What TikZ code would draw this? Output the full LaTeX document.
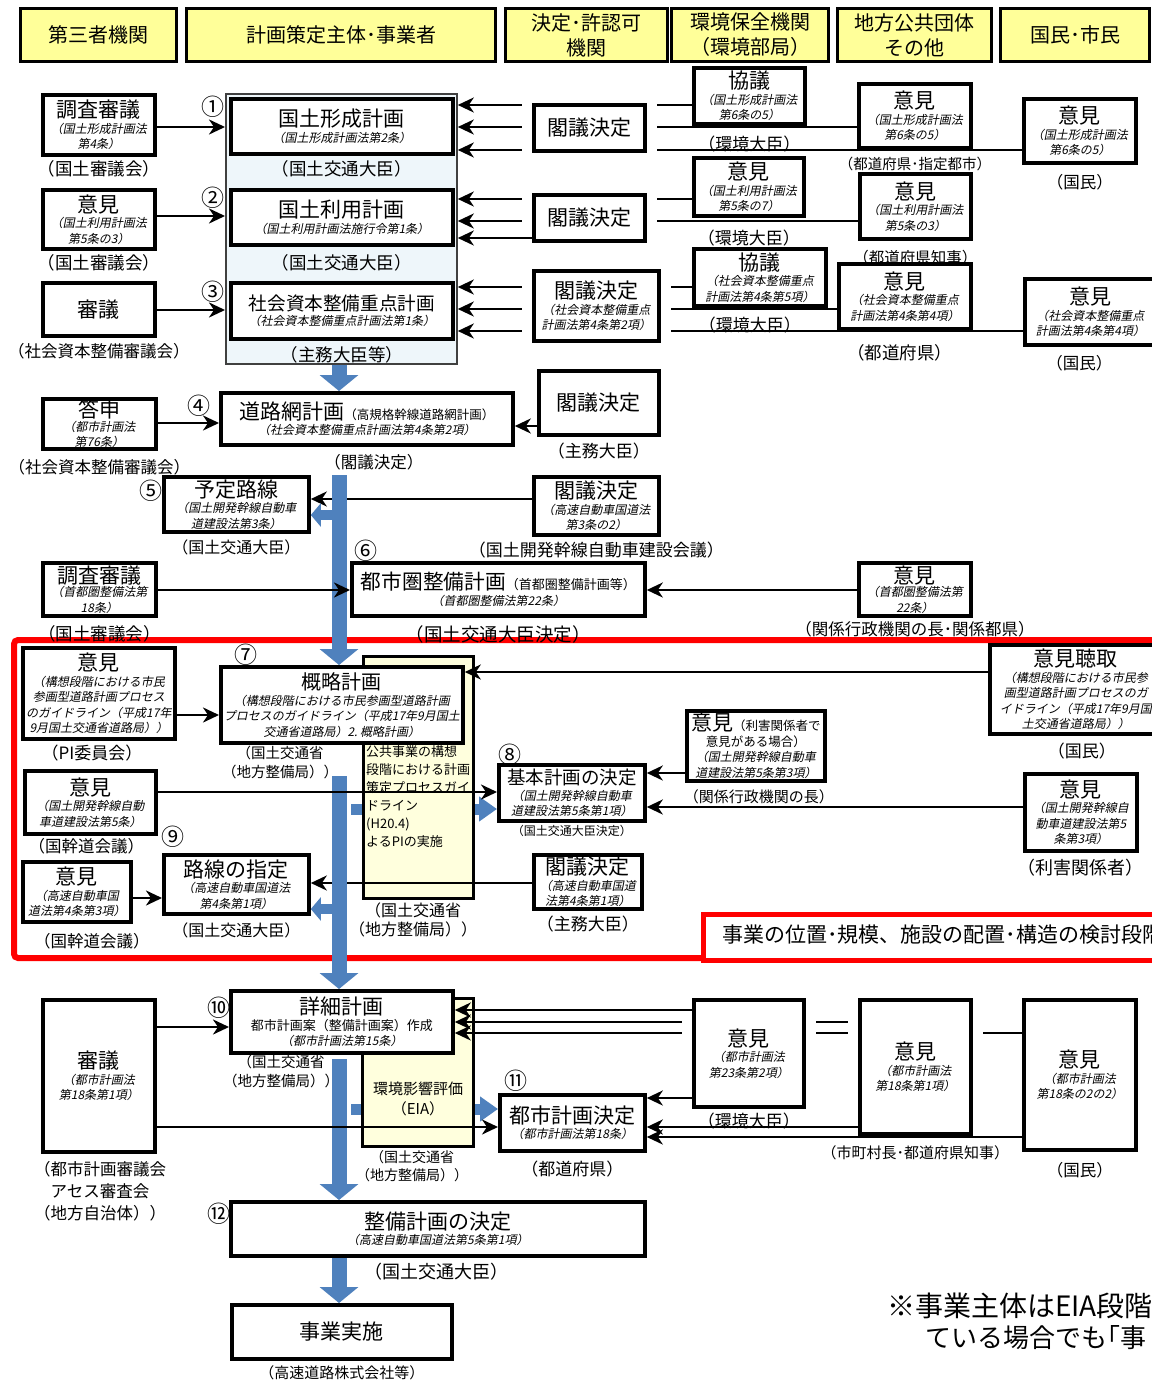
\documentclass[tikz,border=0pt]{standalone}
\usepackage{fontspec}
\setmainfont{Noto Sans CJK JP}
\newfontfamily\jpit{Noto Sans CJK JP}[FakeSlant=0.2]
\usetikzlibrary{arrows.meta, positioning}
\usepackage{xcolor}
\definecolor{hdryellow}{HTML}{FFFF99}
\definecolor{panelblue}{HTML}{EEF6FA}
\definecolor{pifill}{HTML}{FFFFDD}
\definecolor{barblue}{HTML}{4F81BD}
\newcommand{\jfs}[2]{\fontsize{#1}{#2}\selectfont}
\newcommand{\jtitle}{\normalfont\jfs{21}{24}}
\newcommand{\jsub}{\jpit\jfs{12}{15.5}}
\newcommand{\jsmall}{\normalfont\jfs{13}{16}}
\pgfdeclarelayer{bottom}
\pgfdeclarelayer{back}
\pgfsetlayers{bottom,back,main}

\begin{document}
\begin{tikzpicture}[x=1pt, y=-1pt]
  % スタイル
  \tikzstyle{header}=[rectangle, anchor=north west, draw=black, line width=3pt, fill=hdryellow, align=center, inner sep=0pt, font=\jfs{20}{25}]
  \tikzstyle{block}=[rectangle, anchor=north west, draw=black, line width=3.8pt, fill=white, align=center, inner sep=1pt, font=\jsub]
  \tikzstyle{coverblock}=[block, preaction={draw=white, line width=24pt}]
  \tikzstyle{pibox}=[rectangle, anchor=north west, draw=black, line width=3pt, fill=pifill]
  \tikzstyle{annot}=[inner sep=0pt, font=\jfs{17.5}{21}]
  \tikzstyle{circnum}=[inner sep=0pt, font=\jfs{23}{23}]
  \tikzstyle{arrow}=[line width=2.6pt, ->, >={Stealth[length=16pt, width=15pt, inset=5pt]}]
  \tikzstyle{flowbar}=[draw=barblue, line width=15pt, -{Triangle[length=16pt, width=38pt]}]
  \tikzstyle{minibar}=[draw=barblue, line width=10pt, -{Triangle[length=10pt, width=23pt]}]
  \tikzstyle{sidebar}=[draw=barblue, line width=11pt, -{Triangle[length=18pt, width=24pt]}]

  \useasboundingbox (0,0) rectangle (1151,1380);
  \begin{pgfonlayer}{bottom}
    \fill[white] (0,0) rectangle (1151,1380);
  \end{pgfonlayer}

  % 見出し
  \node (h1) [header, minimum width=156pt, minimum height=53pt] at (19,7) {第三者機関};
  \node (h2) [header, minimum width=309pt, minimum height=53pt] at (185,7) {計画策定主体･事業者};
  \node (h3) [header, minimum width=162pt, minimum height=53pt] at (504,7) {決定･許認可\\機関};
  \node (h4) [header, minimum width=157pt, minimum height=53pt] at (670,7) {環境保全機関\\（環境部局）};
  \node (h5) [header, minimum width=154pt, minimum height=53pt] at (836,7) {地方公共団体\\その他};
  \node (h6) [header, minimum width=149pt, minimum height=53pt] at (999,7) {国民･市民};

  % 国土計画
  \node (panel) [rectangle, anchor=north west, draw=black!75, line width=1.8pt, fill=panelblue, minimum width=231pt, minimum height=270pt] at (225,93) {};
  \node (p1) [block, minimum width=222pt, minimum height=55pt] at (229,97) {{\jtitle 国土形成計画}\\（国土形成計画法第2条）};
  \node (p2) [block, minimum width=222pt, minimum height=55pt] at (229,188) {{\jtitle 国土利用計画}\\（国土利用計画法施行令第1条）};
  \node (p3) [block, minimum width=222pt, minimum height=56pt] at (229,281) {{\normalfont\jfs{18.6}{22}社会資本整備重点計画}\\（社会資本整備重点計画法第1条）};
  \node (s1) [block, minimum width=112pt, minimum height=60pt] at (41,93) {{\jtitle 調査審議}\\（国土形成計画法\\第4条）};
  \node (s2) [block, minimum width=112pt, minimum height=59pt] at (41,188) {{\jtitle 意見}\\（国土利用計画法\\第5条の3）};
  \node (s3) [block, minimum width=112pt, minimum height=53pt] at (41,281) {{\jtitle 審議}};

  \node (k1) [coverblock, minimum width=111pt, minimum height=46pt] at (532,103) {{\jtitle 閣議決定}};
  \node (c1) [block, minimum width=111pt, minimum height=56pt] at (692,66) {{\jtitle 協議}\\（国土形成計画法\\第6条の5）};
  \node (l1) [block, minimum width=112pt, minimum height=64pt] at (857,82) {{\jtitle 意見}\\（国土形成計画法\\第6条の5）};
  \node (n1) [block, minimum width=112pt, minimum height=64pt] at (1022,97) {{\jtitle 意見}\\（国土形成計画法\\第6条の5）};
  \node (k2) [coverblock, minimum width=111pt, minimum height=46pt] at (532,193) {{\jtitle 閣議決定}};
  \node (c2) [block, minimum width=110pt, minimum height=58pt] at (692,156) {{\jtitle 意見}\\（国土利用計画法\\第5条の7）};
  \node (l2) [block, minimum width=111pt, minimum height=65pt] at (858,172) {{\jtitle 意見}\\（国土利用計画法\\第5条の3）};
  \node (k3) [coverblock, minimum width=125pt, minimum height=70pt] at (532,269) {{\jtitle 閣議決定}\\（社会資本整備重点\\計画法第4条第2項）};
  \node (c3) [block, minimum width=132pt, minimum height=57pt] at (692,247) {{\jtitle 協議}\\（社会資本整備重点\\計画法第4条第5項）};
  \node (l3) [block, minimum width=132pt, minimum height=65pt] at (837,262) {{\jtitle 意見}\\（社会資本整備重点\\計画法第4条第4項）};
  \node (n3) [block, minimum width=131pt, minimum height=66pt] at (1023,277) {{\jtitle 意見}\\（社会資本整備重点\\計画法第4条第4項）};

  % 道路網計画～都市圏整備計画
  \node (road) [block, minimum width=292pt, minimum height=52pt] at (219,391) {{\jtitle 道路網計画}{\normalfont\jfs{12.5}{15}（高規格幹線道路網計画）}\\（社会資本整備重点計画法第4条第2項）};
  \node (tosin) [block, minimum width=113pt, minimum height=50pt] at (41,397) {{\jtitle 答申}\\[-2pt]（都市計画法\\第76条）};
  \node (k4) [block, minimum width=120pt, minimum height=64pt] at (537,369) {{\jtitle 閣議決定}};
  \node (yotei) [block, minimum width=145pt, minimum height=55pt] at (162,475) {{\jtitle 予定路線}\\（国土開発幹線自動車\\道建設法第3条）};
  \node (k5) [block, minimum width=125pt, minimum height=58pt] at (532,475) {{\jtitle 閣議決定}\\（高速自動車国道法\\第3条の2）};
  \node (toshiken) [block, minimum width=293pt, minimum height=53pt] at (350,561) {{\normalfont\jfs{20.7}{24}都市圏整備計画}{\jsmall（首都圏整備計画等）}\\（首都圏整備法第22条）};
  \node (s6) [block, minimum width=113pt, minimum height=53pt] at (41,561) {{\jtitle 調査審議}\\[-2pt]（首都圏整備法第\\18条）};
  \node (l6) [block, minimum width=112pt, minimum height=53pt] at (857,561) {{\jtitle 意見}\\[-2pt]（首都圏整備法第\\22条）};

  % 検討段階の枠
  \draw[red, line width=6pt, rounded corners=4pt] (14,640) rectangle (1175,958);

  % PI・環境影響評価
  \begin{pgfonlayer}{back}
    \node (y1) [pibox, minimum width=110pt, minimum height=242pt] at (362,655) {};
    \node (y2) [pibox, minimum width=111pt, minimum height=148pt] at (361,997) {};
  \end{pgfonlayer}
  \node (y1txt) [anchor=north west, align=left, inner sep=0pt, font=\jfs{13}{18}] at (366,745) {公共事業の構想\\段階における計画\\策定プロセスガイ\\ドライン\\(H20.4)\\よるPIの実施};
  \node (y2txt) [inner sep=0pt, align=center, font=\jfs{15}{20}] at (418,1099) {環境影響評価\\（EIA）};

  \node (gairyaku) [block, minimum width=242pt, minimum height=76pt] at (219,665) {{\normalfont\jfs{20}{24}概略計画}\\（構想段階における市民参画型道路計画\\プロセスのガイドライン（平成17年9月国土\\交通省道路局）2.\ 概略計画）};
  \node (pi) [block, minimum width=152pt, minimum height=91pt] at (21,646) {{\jtitle 意見}\\（構想段階における市民\\参画型道路計画プロセス\\のガイドライン（平成17年\\9月国土交通省道路局））};
  \node (chotori) [block, minimum width=172pt, minimum height=89pt] at (988,643) {{\jtitle 意見聴取}\\（構想段階における市民参\\画型道路計画プロセスのガ\\イドライン（平成17年9月国\\土交通省道路局））};
  \node (kihon) [block, minimum width=146pt, minimum height=56pt] at (497,763) {{\normalfont\jfs{18.5}{22}基本計画の決定}\\（国土開発幹線自動車\\道建設法第5条第1項）};
  \node (k8) [block, minimum width=131pt, minimum height=63pt] at (23,769) {{\jtitle 意見}\\（国土開発幹線自動\\車道建設法第5条）};
  \node (r8) [block, minimum width=138pt, minimum height=70pt] at (685,709) {{\jtitle 意見}{\normalfont\jfs{12.5}{15}（利害関係者で}\\{\normalfont\jfs{12.5}{15}意見がある場合）}\\（国土開発幹線自動車\\道建設法第5条第3項）};
  \node (g8) [block, minimum width=112pt, minimum height=77pt] at (1023,772) {{\jtitle 意見}\\（国土開発幹線自\\動車道建設法第5\\条第3項）};
  \node (rosen) [block, minimum width=145pt, minimum height=59pt] at (162,853) {{\jtitle 路線の指定}\\（高速自動車国道法\\第4条第1項）};
  \node (k9i) [block, minimum width=108pt, minimum height=60pt] at (21,860) {{\jtitle 意見}\\（高速自動車国\\道法第4条第3項）};
  \node (k9) [block, minimum width=108pt, minimum height=54pt] at (532,853) {{\jtitle 閣議決定}\\（高速自動車国道\\法第4条第1項）};
  \node (stage) [rectangle, anchor=north west, draw=red, line width=5pt, fill=white, minimum width=470pt, minimum height=46pt] at (701,912) {};
  \node (stagetxt) [anchor=west, inner sep=0pt, font=\jfs{21}{24}] at (722,935) {事業の位置･規模、施設の配置･構造の検討段階};

  % 詳細計画～事業実施
  \node (shosai) [block, minimum width=222pt, minimum height=62pt] at (229,989) {{\jtitle 詳細計画}\\{\jsmall 都市計画案（整備計画案）作成}\\（都市計画法第15条）};
  \node (shingi) [block, minimum width=112pt, minimum height=152pt] at (41,998) {{\jtitle 審議}\\（都市計画法\\第18条第1項）};
  \node (kan10) [coverblock, minimum width=110pt, minimum height=107pt] at (692,998) {{\jtitle 意見}\\（都市計画法\\第23条第2項）};
  \node (chi10) [coverblock, minimum width=111pt, minimum height=134pt] at (858,998) {{\jtitle 意見}\\（都市計画法\\第18条第1項）};
  \node (kok10) [block, minimum width=112pt, minimum height=150pt] at (1022,998) {{\jtitle 意見}\\（都市計画法\\第18条の2の2）};
  \node (toshi) [block, minimum width=145pt, minimum height=56pt] at (498,1093) {{\jtitle 都市計画決定}\\（都市計画法第18条）};
  \node (seibi) [block, minimum width=414pt, minimum height=54pt] at (229,1200) {{\jtitle 整備計画の決定}\\（高速自動車国道法第5条第1項）};
  \node (jigyo) [block, minimum width=220pt, minimum height=54pt] at (230,1303) {{\jtitle 事業実施}};

  % 裏を通る矢印
  \coordinate (spine) at (339,0);
  \coordinate (sidebase) at (351,0);
  \begin{pgfonlayer}{back}
    \draw[arrow] (c1.west |- 0,105) -- (panel.east |- 0,105);
    \draw[arrow] (l1.west |- 0,127) -- (panel.east |- 0,127);
    \draw[arrow] (n1.west |- 0,150) -- (panel.east |- 0,150);
    \draw[arrow] (c2.west |- 0,199) -- (panel.east |- 0,199);
    \draw[arrow] (l2.west |- 0,221) -- (panel.east |- 0,221);
    \draw[arrow] (c3.west |- 0,287) -- (panel.east |- 0,287);
    \draw[arrow] (l3.west |- 0,309) -- (panel.east |- 0,309);
    \draw[arrow] (n3.west |- 0,331) -- (panel.east |- 0,331);
    \draw[arrow] (chi10.west |- 0,1022) -- (shosai.east |- 0,1022);
    \draw[arrow] (kok10.west |- 0,1033) -- (shosai.east |- 0,1033);
  \end{pgfonlayer}
  \begin{pgfonlayer}{bottom}
    \draw[sidebar] (sidebase |- 0,809) -- (kihon.west |- 0,809);
    \draw[sidebar] (sidebase |- 0,1109) -- (toshi.west |- 0,1109);
  \end{pgfonlayer}

  % 矢印
  \draw[arrow] (s1.east |- 0,127) -- (panel.west |- 0,127);
  \draw[arrow] (s2.east |- 0,216) -- (panel.west |- 0,216);
  \draw[arrow] (s3.east |- 0,310) -- (panel.west |- 0,310);
  \draw[arrow] (k2.west |- 0,238) -- (panel.east |- 0,238);
  \draw[arrow] (tosin.east |- 0,423) -- (road.west |- 0,423);
  \draw[arrow] (k4.west |- 0,426) -- (road.east |- 0,426);
  \draw[arrow] (k5.west |- 0,499) -- (yotei.east |- 0,499);
  \draw[arrow] (k9.west |- 0,883) -- (rosen.east |- 0,883);

  \draw[flowbar] (spine |- panel.south) -- (spine |- road.north);
  \draw[flowbar] (spine |- yotei.north) -- (spine |- gairyaku.north);
  \draw[minibar] (spine |- 0,515) -- (yotei.east |- 0,515);
  \draw[flowbar] (spine |- 0,776) -- (spine |- shosai.north);
  \draw[minibar] (spine |- 0,909) -- (rosen.east |- 0,909);
  \draw[flowbar] (spine |- 0,1059) -- (spine |- seibi.north);
  \draw[flowbar] (spine |- seibi.south) -- (spine |- jigyo.north);

  \draw[arrow] (s6.east |- 0,590) -- (toshiken.west |- 0,590);
  \draw[arrow] (l6.west |- 0,590) -- (toshiken.east |- 0,590);
  \draw[arrow] (pi.east |- 0,715) -- (gairyaku.west |- 0,715);
  \draw[arrow] (chotori.west |- 0,672) -- (gairyaku.east |- 0,672);
  \draw[arrow] (k8.east |- 0,792) -- (kihon.west |- 0,792);
  \draw[arrow] (r8.west |- 0,773) -- (kihon.east |- 0,773);
  \draw[arrow] (g8.west |- 0,807) -- (kihon.east |- 0,807);
  \draw[arrow] (k9i.east |- 0,898) -- (rosen.west |- 0,898);
  \draw[arrow] (shingi.east |- 0,1027) -- (shosai.west |- 0,1027);
  \draw[arrow] (shingi.east |- 0,1127) -- (toshi.west |- 0,1127);
  \draw[arrow] (kan10.west |- 0,1010) -- (shosai.east |- 0,1010);
  \draw[arrow] (kan10.west |- 0,1098) -- (toshi.east |- 0,1098);
  \draw[arrow] (chi10.west |- 0,1127) -- (toshi.east |- 0,1127);
  \draw[arrow] (kok10.west |- 0,1137) -- (toshi.east |- 0,1137);

  % 主体の注記
  \node (p1lab) [annot, below=5pt of p1] {（国土交通大臣）};
  \node (p2lab) [annot, below=8pt of p2] {（国土交通大臣）};
  \node (p3lab) [annot, below=6pt of p3] {（主務大臣等）};
  \node (s1lab) [annot, below=4pt of s1] {（国土審議会）};
  \node (s2lab) [annot, below=4pt of s2] {（国土審議会）};
  \node (s3lab) [annot, below=5pt of s3, font=\jfs{16.5}{20}] {（社会資本整備審議会）};
  \node (c1lab) [annot, below=10pt of c1, font=\jfs{17}{20}] {（環境大臣）};
  \node (l1lab) [annot, below=7pt of l1, font=\jfs{14.5}{18}] {（都道府県･指定都市）};
  \node (n1lab) [annot, below=9pt of n1, font=\jfs{16.5}{20}] {（国民）};
  \node (c2lab) [annot, below=12pt of c2, font=\jfs{17}{20}] {（環境大臣）};
  \node (l2lab) [annot, below=9pt of l2, font=\jfs{15.5}{18}] {（都道府県知事）};
  \node (c3lab) [annot, below=9pt of c3, xshift=-10pt, font=\jfs{17}{20}] {（環境大臣）};
  \node (l3lab) [annot, below=14pt of l3, xshift=-5pt] {（都道府県）};
  \node (n3lab) [annot, below=8pt of n3, xshift=-11pt, font=\jfs{16.5}{20}] {（国民）};
  \node (roadlab) [annot, below=7pt of road, xshift=7pt, font=\jfs{16.5}{20}] {（閣議決定）};
  \node (tosinlab) [annot, below=8pt of tosin, font=\jfs{16.5}{20}] {（社会資本整備審議会）};
  \node (k4lab) [annot, below=6pt of k4, font=\jfs{17}{20}] {（主務大臣）};
  \node (yoteilab) [annot, below=6pt of yotei, font=\jfs{16}{20}] {（国土交通大臣）};
  \node (k5lab) [annot, below=5pt of k5, font=\jfs{17}{20}] {（国土開発幹線自動車建設会議）};
  \node (toshikenlab) [annot, below=8pt of toshiken, font=\jfs{18.5}{20}] {（国土交通大臣決定）};
  \node (s6lab) [annot, below=8pt of s6] {（国土審議会）};
  \node (l6lab) [annot, below=3pt of l6, font=\jfs{16.5}{20}] {（関係行政機関の長･関係都県）};
  \node (pilab) [annot, below=4pt of pi, xshift=-7pt, font=\jfs{17}{20}] {（PI委員会）};
  \node (chotorilab) [annot, below=7pt of chotori, xshift=6pt, font=\jfs{17}{20}] {（国民）};
  \node (gairyakulab) [annot, align=center, font=\jfs{14.5}{19}] at (280,762) {（国土交通省\\（地方整備局））};
  \node (y1lab) [annot, align=center, font=\jfs{16}{19}] at (413,920) {（国土交通省\\（地方整備局））};
  \node (kihonlab) [annot, below=2pt of kihon, font=\jfs{12}{14}] {（国土交通大臣決定）};
  \node (k8lab) [annot, below=2pt of k8, xshift=-4pt, font=\jfs{16.5}{20}] {（国幹道会議）};
  \node (r8lab) [annot, below=7pt of r8, xshift=3pt, font=\jfs{15}{18}] {（関係行政機関の長）};
  \node (g8lab) [annot, below=6pt of g8, font=\jfs{18}{20}] {（利害関係者）};
  \node (rosenlab) [annot, below=7pt of rosen, font=\jfs{16}{20}] {（国土交通大臣）};
  \node (k9ilab) [annot, below=9pt of k9i, xshift=15pt, font=\jfs{16.5}{20}] {（国幹道会議）};
  \node (k9lab) [annot, below=5pt of k9, font=\jfs{17}{20}] {（主務大臣）};
  \node (shosailab) [annot, align=center, font=\jfs{14.5}{19}] at (281,1071) {（国土交通省\\（地方整備局））};
  \node (y2lab) [annot, align=center, font=\jfs{14}{18}] at (412,1166) {（国土交通省\\（地方整備局））};
  \node (shingilab) [annot, align=center, font=\jfs{16.5}{22}] at (100,1191) {（都市計画審議会\\アセス審査会\\（地方自治体））};
  \node (kan10lab) [annot, below=4pt of kan10, font=\jfs{17}{20}] {（環境大臣）};
  \node (chi10lab) [annot, below=10pt of chi10, font=\jfs{15}{18}] {（市町村長･都道府県知事）};
  \node (kok10lab) [annot, below=10pt of kok10, font=\jfs{16.5}{20}] {（国民）};
  \node (toshilab) [annot, below=8pt of toshi, font=\jfs{17}{20}] {（都道府県）};
  \node (seibilab) [annot, font=\jfs{18}{20}] at (436,1272) {（国土交通大臣）};
  \node (jigyolab) [annot, below=5pt of jigyo, font=\jfs{15}{18}] {（高速道路株式会社等）};

  % 番号
  \node (num1) [circnum] at (213,107) {①};
  \node (num2) [circnum] at (213,198) {②};
  \node (num3) [circnum] at (213,292) {③};
  \node (num4) [circnum] at (199,406) {④};
  \node (num5) [circnum] at (151,491) {⑤};
  \node (num6) [circnum] at (366,551) {⑥};
  \node (num7) [circnum] at (246,655) {⑦};
  \node (num8) [circnum] at (510,755) {⑧};
  \node (num9) [circnum] at (173,837) {⑨};
  \node (num10) [circnum] at (219,1008) {⑩};
  \node (num11) [circnum] at (516,1081) {⑪};
  \node (num12) [circnum] at (219,1214) {⑫};

  % 注記
  \node (note1) [anchor=west, inner sep=0pt, font=\jfs{28}{30}] at (887,1306) {※事業主体はEIA段階};
  \node (note2) [anchor=west, inner sep=0pt, font=\jfs{26}{30}] at (925,1338) {ている場合でも｢事};
\end{tikzpicture}
\end{document}
